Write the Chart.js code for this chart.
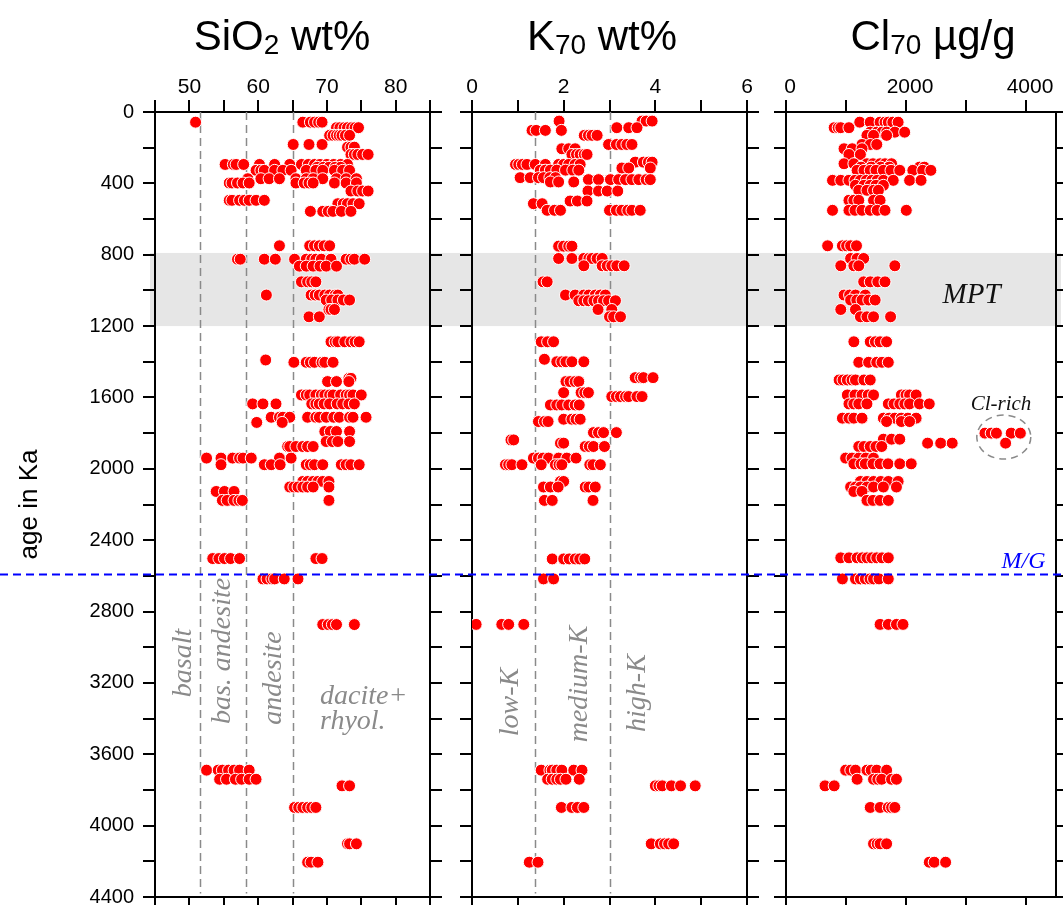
<!DOCTYPE html>
<html>
<head>
<meta charset="utf-8">
<title>SiO2, K70 and Cl70 versus age</title>
<script src="https://cdn.jsdelivr.net/npm/chart.js@4.4.1/dist/chart.umd.min.js"></script>
<style>
  html, body { margin: 0; padding: 0; background: #fff; }
  #wrap { position: relative; width: 1063px; height: 905px; overflow: hidden; }
  #wrap canvas { position: absolute; left: 0; top: 0; }
</style>
</head>
<body>
<div id="wrap">
  <canvas id="sio2" width="1063" height="905"></canvas>
  <canvas id="k70" width="1063" height="905"></canvas>
  <canvas id="cl70" width="1063" height="905"></canvas>
</div>
<script>
// age axis (Ka), shared by all three panels
const ageRange = [0, 4400];
const ageTickLabels = [0, 400, 800, 1200, 1600, 2000, 2400, 2800, 3200, 3600, 4000, 4400];
const mptBand = [790, 1200];
const mgAge = 2588;

// x ranges, minor tick steps and labelled ticks
const sio2Range = [45, 85];
const sio2TickLabels = [50, 60, 70, 80];
const k70Range = [0, 6];
const k70TickLabels = [0, 2, 4, 6];
const cl70Range = [0, 4500];
const cl70TickLabels = [0, 2000, 4000];

// classification boundaries
const sio2Bounds = [51.5, 58.3, 65];
const k70Bounds = [1.38, 3.0];

// [age in Ka, [values of the analysed shards]]
const sio2Rows = [
  [57, [50.9, 66.5, 67.6, 68.2, 68.8, 69.3]],
  [88, [71.4, 71.9, 72.5, 73.0, 73.6, 74.1, 74.6]],
  [131, [70.4, 70.9, 71.4, 71.8, 72.2, 72.7, 73.3]],
  [182, [65.1, 67.4, 69.3]],
  [197, [73.0, 73.5, 74.0]],
  [238, [73.5, 74.0, 74.5, 75.2, 76.0]],
  [294, [55.2, 56.4, 56.8, 57.9, 60.2, 62.4, 64.6, 66.3, 67.3, 68.2, 69.0, 70.0, 71.0, 72.0, 73.0]],
  [310, [68.6, 69.5, 70.3, 71.2, 72.0]],
  [327, [59.7, 60.4, 60.9, 62.4, 63.6, 64.8, 67.0, 68.4, 69.4, 71.1, 72.3, 73.3]],
  [374, [58.5, 60.4, 61.6, 63.1, 65.5, 67.0, 68.0, 69.4, 71.4, 72.8, 74.3]],
  [398, [55.8, 56.2, 57.0, 57.8, 58.7, 65.5, 66.7, 67.4, 68.0, 71.1, 72.8, 74.3]],
  [443, [73.5, 74.5, 75.2, 76.0]],
  [495, [55.8, 56.2, 57.3, 58.0, 58.7, 59.7, 60.9]],
  [514, [71.6, 72.4, 73.0, 73.8, 74.7]],
  [557, [67.6, 69.4, 70.2, 70.9, 72.1, 73.5]],
  [750, [63.1, 67.5, 68.2, 68.9, 69.6, 70.4]],
  [825, [57.0, 57.4, 60.9, 62.5, 65.3, 67.0, 67.8, 68.4, 69.2, 70.6, 72.8, 73.5, 74.0, 75.5]],
  [864, [66.0, 67.0, 68.0, 69.0, 69.9, 71.4]],
  [952, [66.3, 67.2, 67.8, 68.4]],
  [1026, [61.2, 67.7, 68.3, 68.9, 69.7, 70.4, 71.2, 71.6]],
  [1054, [69.9, 70.7, 71.6, 72.4, 73.3]],
  [1107, [70.3, 70.6, 71.1]],
  [1148, [67.4, 68.9]],
  [1288, [70.6, 71.2, 71.6, 72.6, 73.5, 74.1, 74.7]],
  [1390, [61.1]],
  [1403, [65.2, 67.0, 67.6, 68.2, 69.3, 69.7, 70.9]],
  [1493, [73.2, 73.5]],
  [1511, [70.1, 71.4, 73.2]],
  [1586, [66.3, 67.0, 67.5, 68.4, 69.2, 69.7, 70.4, 70.9, 72.0, 72.8, 73.3, 73.8, 75.0]],
  [1636, [59.2, 60.7, 62.6, 67.8, 68.4, 68.9, 69.6, 70.4, 71.5, 72.3, 73.2, 74.0]],
  [1711, [61.9, 63.1, 63.6, 64.6, 67.2, 68.4, 68.9, 69.9, 71.0, 71.8, 73.3, 73.8, 75.7]],
  [1740, [59.8, 63.5]],
  [1791, [69.7, 70.5, 71.4, 73.3]],
  [1847, [69.9, 70.8, 71.6, 73.3]],
  [1875, [64.3, 64.6, 65.5, 66.5, 67.2, 68.0]],
  [1940, [52.5, 54.6, 56.3, 57.3, 57.8, 59.0, 63.1, 64.8]],
  [1977, [54.6, 60.9, 61.9, 63.2, 67.0, 67.6, 68.2, 69.4, 72.1, 72.8, 73.5, 74.7]],
  [2071, [66.5, 67.2, 68.0, 68.7, 69.4, 70.3]],
  [2102, [64.6, 65.2, 65.8, 66.5, 67.2, 68.0, 70.3]],
  [2127, [53.9, 55.1, 56.5]],
  [2177, [54.8, 55.5, 56.5, 57.2, 57.7, 70.3]],
  [2503, [53.4, 54.3, 55.1, 56.0, 57.3, 68.4, 69.3]],
  [2617, [60.7, 61.3, 62.0, 62.4, 63.8, 65.8]],
  [2873, [69.4, 70.2, 70.8, 71.4, 74.0]],
  [3689, [52.5, 54.2, 54.8, 55.7, 56.5, 57.3, 58.7]],
  [3740, [54.4, 55.4, 56.7, 57.6, 58.7, 59.7]],
  [3777, [72.2, 73.3]],
  [3898, [65.3, 65.9, 66.5, 67.2, 67.8, 68.4]],
  [4102, [73.0, 73.3, 74.3]],
  [4205, [67.2, 67.7, 68.7]]
];

const k70Rows = [
  [51, [1.90, 3.71, 3.80, 3.93]],
  [88, [3.16, 3.42, 3.60]],
  [103, [1.31, 1.40, 1.60, 1.95]],
  [131, [2.45, 2.54, 2.62, 2.73]],
  [182, [2.98, 3.15, 3.27, 3.38, 3.49]],
  [206, [1.96, 2.11, 2.25]],
  [238, [2.18, 2.28, 2.36, 2.45, 2.51]],
  [281, [3.56, 3.74, 3.85, 3.93]],
  [294, [0.95, 1.02, 1.10, 1.20, 1.38, 1.60, 1.89, 2.00, 2.11, 2.25, 2.36]],
  [314, [3.27, 3.42, 3.89]],
  [326, [1.49, 1.60, 1.71, 1.85, 2.04, 2.20, 2.33]],
  [368, [1.05, 1.27, 1.45, 1.56, 1.70, 1.82]],
  [379, [2.54, 2.76, 3.02, 3.20, 3.35, 3.49, 3.64, 3.80, 3.89]],
  [392, [1.71, 1.89, 2.22]],
  [443, [2.53, 2.76, 2.95, 3.18]],
  [499, [2.14, 2.30, 2.51]],
  [514, [1.34, 1.53]],
  [551, [1.64, 1.80, 1.93, 3.00, 3.15, 3.27, 3.40, 3.49, 3.67]],
  [752, [1.89, 2.00, 2.11, 2.18]],
  [821, [1.89, 2.18, 2.44, 2.55, 2.62, 2.73, 2.84]],
  [862, [2.44, 2.84, 2.95, 3.05, 3.16, 3.32]],
  [952, [1.55, 1.64]],
  [1026, [2.04, 2.25, 2.44, 2.55, 2.69, 2.80, 2.91]],
  [1058, [2.33, 2.44, 2.54, 2.66, 2.76, 2.87, 2.98, 3.13]],
  [1107, [2.75, 3.05]],
  [1148, [3.00, 3.09, 3.24]],
  [1288, [1.51, 1.65, 1.78]],
  [1386, [1.58]],
  [1400, [1.85, 1.96, 2.05, 2.18, 2.44]],
  [1489, [3.56, 3.68, 3.74, 3.95]],
  [1511, [2.05, 2.14, 2.25, 2.33]],
  [1573, [2.00, 2.38, 2.46, 2.54]],
  [1595, [3.05, 3.15, 3.24, 3.35, 3.42, 3.60, 3.71]],
  [1642, [1.71, 1.85, 1.96, 2.11, 2.25, 2.34]],
  [1722, [2.00, 2.18, 2.27, 2.36]],
  [1735, [1.45, 1.58, 1.66]],
  [1797, [2.65, 2.76, 2.87, 3.15]],
  [1838, [0.85, 0.91]],
  [1856, [1.93, 2.00]],
  [1875, [2.47, 2.56, 2.65, 2.89]],
  [1940, [1.34, 1.45, 1.55, 1.67, 1.89, 2.07, 2.27]],
  [1977, [0.73, 0.80, 0.87, 1.09, 1.51, 1.82, 1.90, 1.96, 2.57, 2.64, 2.80]],
  [2071, [1.93, 2.00]],
  [2102, [1.56, 1.71, 1.88, 2.47, 2.55, 2.69]],
  [2177, [1.58, 1.75, 2.64]],
  [2505, [1.75, 2.00, 2.12, 2.25, 2.35, 2.46]],
  [2617, [1.56, 1.78]],
  [2872, [0.09, 0.65, 0.80, 1.13]],
  [3689, [1.51, 1.70, 1.75, 1.85, 1.96, 2.22, 2.40]],
  [3740, [1.65, 1.75, 1.85, 1.93, 2.05, 2.34]],
  [3777, [4.00, 4.08, 4.15, 4.35, 4.55, 4.87]],
  [3898, [1.95, 2.18, 2.30, 2.44]],
  [4102, [3.91, 4.11, 4.20, 4.29, 4.40]],
  [4205, [1.25, 1.44]]
];

const cl70Rows = [
  [57, [1229, 1404, 1568, 1650, 1705, 1780, 1869]],
  [88, [803, 870, 913, 1049]],
  [113, [1404, 1513, 1600, 1677, 1814, 1978]],
  [131, [1349, 1459, 1677]],
  [182, [1267, 1404, 1513]],
  [206, [967, 1103, 1267]],
  [238, [1049, 1240]],
  [290, [967, 1131, 1349, 1450, 1568, 1650, 1759]],
  [309, [1250, 1420, 1580, 1720, 2224, 2306]],
  [327, [1185, 1300, 1404, 1500, 1623, 1750, 1896, 2114, 2278, 2414]],
  [383, [775, 913, 1049, 1150, 1240, 1340, 1431, 1520, 1623, 1787, 2060, 2251]],
  [411, [1158, 1300, 1404, 1500, 1623]],
  [439, [1213, 1350, 1459, 1540]],
  [495, [1049, 1130, 1213, 1459, 1568]],
  [551, [775, 1049, 1150, 1267, 1404, 1520, 1650, 2005]],
  [750, [694, 940, 1010, 1077, 1175]],
  [821, [1077, 1185, 1295]],
  [862, [913, 1131, 1213, 1814]],
  [952, [1295, 1404, 1530, 1650]],
  [1026, [967, 1060, 1158, 1322]],
  [1054, [1077, 1180, 1267, 1380, 1486]],
  [1107, [913, 1158]],
  [1148, [1240, 1349, 1459, 1743]],
  [1288, [1131, 1404, 1490, 1568, 1677]],
  [1403, [1213, 1377, 1513, 1600, 1705]],
  [1502, [885, 950, 1022, 1100, 1158, 1300, 1404]],
  [1586, [1022, 1150, 1267, 1370, 1459, 1923, 2000, 2060, 2169]],
  [1636, [1049, 1130, 1213, 1349, 1705, 1800, 1896, 1980, 2060, 2224, 2388]],
  [1716, [940, 1050, 1131, 1267, 1623, 1720, 1814, 1920, 2032, 2169]],
  [1735, [1677, 1923, 2060]],
  [1800, [3316, 3420, 3507, 3753, 3906]],
  [1834, [1623, 1759, 1896]],
  [1856, [2360, 2578, 2770, 3660]],
  [1875, [1213, 1300, 1404, 1500, 1595]],
  [1940, [994, 1100, 1213, 1330, 1459]],
  [1972, [1131, 1250, 1322, 1450, 1568, 1700, 1896, 2087]],
  [2071, [1240, 1350, 1459, 1580, 1705, 1869]],
  [2102, [1077, 1160, 1240, 1350, 1459, 1623, 1841]],
  [2127, [1131, 1267]],
  [2177, [1349, 1450, 1568, 1705]],
  [2499, [913, 1050, 1185, 1270, 1349, 1430, 1513, 1600, 1705]],
  [2617, [940, 1158, 1240, 1322, 1400, 1459, 1550, 1705]],
  [2872, [1568, 1705, 1841, 1950]],
  [3689, [994, 1080, 1158, 1349, 1420, 1513, 1677]],
  [3740, [1185, 1459, 1530, 1595, 1759, 1841]],
  [3777, [650, 803]],
  [3898, [1404, 1568, 1705, 1760, 1814]],
  [4102, [1459, 1520, 1568, 1677]],
  [4205, [2388, 2470, 2660]]
];

const SANS = '"Liberation Sans", Arial, Helvetica, sans-serif';
const SERIF = '"Liberation Serif", "Times New Roman", Times, serif';

// frame geometry in canvas pixels
const W = 1063, H = 905;
const PLOT_TOP = 112, PLOT_BOTTOM = 897, TICK = 12, TOP_AXIS_H = 50;
const BAND_X = [150, 1061];

function toPoints(rows) {
  const pts = [];
  rows.forEach(([age, vals]) => vals.forEach(v => pts.push({ x: v, y: age })));
  return pts;
}

function tickList(min, max, step) {
  const out = [];
  for (let v = min; v <= max + 1e-9; v += step) out.push({ value: +v.toFixed(6) });
  return out;
}

function drawTitle(ctx, parts, cx, baseline) {
  ctx.save();
  ctx.fillStyle = '#000';
  ctx.textBaseline = 'alphabetic';
  ctx.textAlign = 'left';
  let total = 0;
  parts.forEach(p => { ctx.font = p[1] + 'px ' + SANS; total += ctx.measureText(p[0]).width; });
  let x = cx - total / 2;
  parts.forEach(p => {
    ctx.font = p[1] + 'px ' + SANS;
    ctx.fillText(p[0], x, baseline + p[2]);
    x += ctx.measureText(p[0]).width;
  });
  ctx.restore();
}

function drawNotes(chart, notes) {
  const { ctx, scales: { x, y } } = chart;
  notes.forEach(n => {
    ctx.save();
    ctx.translate(x.getPixelForValue(n.x), y.getPixelForValue(n.y));
    if (n.rot) ctx.rotate(-Math.PI / 2);
    ctx.font = 'italic ' + n.size + 'px ' + SERIF;
    ctx.fillStyle = n.color;
    ctx.textAlign = n.align || 'center';
    ctx.textBaseline = 'alphabetic';
    ctx.fillText(n.text, 0, 0);
    ctx.restore();
  });
}

function boundaryPlugin(values) {
  return {
    id: 'boundaries',
    beforeDatasetsDraw(chart) {
      const { ctx, scales: { x, y } } = chart;
      ctx.save();
      ctx.strokeStyle = '#8a8a8a';
      ctx.lineWidth = 1.5;
      ctx.setLineDash([8, 5]);
      values.forEach(v => {
        const px = Math.round(x.getPixelForValue(v)) + 0.5;
        ctx.beginPath();
        ctx.moveTo(px, y.getPixelForValue(0));
        ctx.lineTo(px, y.getPixelForValue(4380));
        ctx.stroke();
      });
      ctx.restore();
    }
  };
}

const GREY = '#8a8a8a';

const sio2Notes = [
  { text: 'basalt', x: 50.2, y: 3088, rot: true, size: 28, color: GREY },
  { text: 'bas. andesite', x: 55.9, y: 3021, rot: true, size: 28, color: GREY },
  { text: 'andesite', x: 63.3, y: 3173, rot: true, size: 28, color: GREY },
  { text: 'dacite+', x: 69.0, y: 3316, align: 'left', size: 28, color: GREY },
  { text: 'rhyol.', x: 69.0, y: 3456, align: 'left', size: 28, color: GREY }
];
const k70Notes = [
  { text: 'low-K', x: 1.0, y: 3307, rot: true, size: 28, color: GREY },
  { text: 'medium-K', x: 2.51, y: 3206, rot: true, size: 28, color: GREY },
  { text: 'high-K', x: 3.77, y: 3257, rot: true, size: 28, color: GREY }
];
const cl70Notes = [
  { text: 'MPT', x: 3093, y: 1070, size: 29, color: '#111' },
  { text: 'Cl-rich', x: 3584, y: 1670, size: 21, color: '#111' },
  { text: 'M/G', x: 3960, y: 2556, size: 24, color: '#0000ff' }
];

function makePanel(canvasId, p) {
  const leftW = p.ageLabels ? p.left : TICK;
  const rightW = Math.min(TICK, W - p.right);
  const axisLine = { display: true, width: 2, color: '#000' };
  const tickMarks = { drawOnChartArea: false, drawTicks: true, tickLength: TICK, lineWidth: 2, color: '#000' };
  const xBase = {
    type: 'linear', min: p.range[0], max: p.range[1], grid: tickMarks, border: axisLine,
    afterBuildTicks: s => { s.ticks = tickList(p.range[0], p.tickEnd, p.step); }
  };
  const yBase = {
    type: 'linear', reverse: true, min: ageRange[0], max: ageRange[1], grid: tickMarks, border: axisLine,
    afterBuildTicks: s => { s.ticks = tickList(ageRange[0], ageRange[1], 200); }
  };

  const plugins = [{
    id: 'panelDecor',
    afterDraw(chart) {
      drawTitle(chart.ctx, p.title, p.titleX, 50);
      drawNotes(chart, p.notes);
      if (p.afterDraw) p.afterDraw(chart);
    }
  }];
  if (p.bounds) plugins.push(boundaryPlugin(p.bounds));
  if (p.beforeDraw) plugins.push({ id: 'under', beforeDraw: p.beforeDraw });

  return new Chart(document.getElementById(canvasId), {
    type: 'scatter',
    data: {
      datasets: [{
        data: toPoints(p.rows),
        pointRadius: 6,
        pointHoverRadius: 6,
        backgroundColor: '#ff0000',
        borderColor: '#ffffff',
        borderWidth: 1
      }]
    },
    options: {
      responsive: false,
      devicePixelRatio: 1,
      animation: false,
      events: [],
      layout: {
        padding: { left: p.left - leftW, right: W - p.right - rightW, top: PLOT_TOP - TOP_AXIS_H, bottom: 0 }
      },
      plugins: { legend: { display: false }, tooltip: { enabled: false } },
      scales: {
        x: Object.assign({}, xBase, {
          position: 'top',
          ticks: {
            autoSkip: false, maxRotation: 0, minRotation: 0, padding: 0,
            labelOffset: p.labelOffset || 0,
            color: '#000', font: { family: SANS, size: 21 },
            callback: v => (p.tickLabels.includes(v) ? String(v) : '')
          },
          afterFit: s => { s.height = TOP_AXIS_H; s.paddingLeft = 0; s.paddingRight = 0; }
        }),
        xb: Object.assign({}, xBase, {
          position: 'bottom',
          ticks: { autoSkip: false, display: false },
          afterFit: s => { s.height = H - PLOT_BOTTOM; s.paddingLeft = 0; s.paddingRight = 0; }
        }),
        y: Object.assign({}, yBase, {
          position: 'left',
          title: p.ageLabels ? {
            display: true, text: 'age in Ka', color: '#000',
            font: { family: SANS, size: 26 }, padding: { top: 14, bottom: 0 }
          } : { display: false },
          ticks: {
            autoSkip: false, display: !!p.ageLabels, padding: 9,
            color: '#000', font: { family: SANS, size: 20 },
            callback: v => (ageTickLabels.includes(v) ? String(v) : '')
          },
          afterFit: s => { s.width = leftW; s.paddingTop = 0; s.paddingBottom = 0; }
        }),
        yr: Object.assign({}, yBase, {
          position: 'right',
          ticks: { autoSkip: false, display: false },
          afterFit: s => { s.width = rightW; s.paddingTop = 0; s.paddingBottom = 0; }
        })
      }
    },
    plugins: plugins
  });
}

makePanel('sio2', {
  rows: sio2Rows, range: sio2Range, step: 5, tickEnd: 85, tickLabels: sio2TickLabels,
  left: 155, right: 430, ageLabels: true,
  title: [['SiO', 42, 0], ['2', 28, 3.5], [' wt%', 42, 0]], titleX: 282,
  bounds: sio2Bounds, notes: sio2Notes,
  beforeDraw(chart) {
    // MPT band spans all three panels, so it is painted on the lowest canvas
    const { ctx, scales: { y } } = chart;
    const y0 = y.getPixelForValue(mptBand[0]);
    const y1 = y.getPixelForValue(mptBand[1]);
    ctx.save();
    ctx.fillStyle = '#e6e6e6';
    ctx.fillRect(BAND_X[0], y0, BAND_X[1] - BAND_X[0], y1 - y0);
    ctx.restore();
  }
});

makePanel('k70', {
  rows: k70Rows, range: k70Range, step: 1, tickEnd: 6, tickLabels: k70TickLabels,
  left: 472, right: 747,
  title: [['K', 42, 0], ['70', 28, 3.5], [' wt%', 42, 0]], titleX: 602,
  bounds: k70Bounds, notes: k70Notes
});

makePanel('cl70', {
  rows: cl70Rows, range: cl70Range, step: 1000, tickEnd: 4000, tickLabels: cl70TickLabels, labelOffset: 4,
  left: 786, right: 1061,
  title: [['Cl', 42, 0], ['70', 28, 3.5], [' µg/g', 42, 0]], titleX: 933,
  notes: cl70Notes,
  afterDraw(chart) {
    const { ctx, scales: { x, y } } = chart;
    // dashed ring round the Cl-rich shards
    ctx.save();
    ctx.strokeStyle = '#8a8a8a';
    ctx.lineWidth = 1.5;
    ctx.setLineDash([7, 5]);
    ctx.beginPath();
    ctx.ellipse(x.getPixelForValue(3630), y.getPixelForValue(1822), 27, 22, 0, 0, Math.PI * 2);
    ctx.stroke();
    // Matuyama/Gauss boundary across the whole figure
    const my = Math.round(y.getPixelForValue(mgAge)) + 0.5;
    ctx.strokeStyle = '#0000ff';
    ctx.lineWidth = 1.8;
    ctx.setLineDash([8, 5]);
    ctx.beginPath();
    ctx.moveTo(0, my);
    ctx.lineTo(W, my);
    ctx.stroke();
    ctx.restore();
  }
});
</script>
</body>
</html>
